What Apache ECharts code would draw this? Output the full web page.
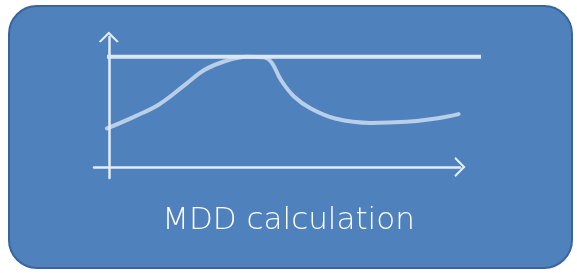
<!DOCTYPE html>
<html>
<head>
<meta charset="utf-8">
<script src="https://cdn.jsdelivr.net/npm/echarts@6/dist/echarts.min.js"></script>
<style>
  html, body { margin: 0; padding: 0; background: #fff; }
  #chart { width: 577px; height: 273px; }
</style>
</head>
<body>
<div id="chart"></div>
<script>
  // curve (x 0..100 across the drawing, y 0 = x axis, 100 = peak line)
  var curveX = [0, 7.5, 14, 21, 26, 31.5, 37.5, 42, 44, 46.5, 50, 54.5, 61, 70.5, 80, 88, 94];
  var curveY = [35, 46, 57, 75, 88, 96, 100, 99.5, 95, 79, 64, 53, 44, 40, 41, 44, 48];
  var peakX = [0, 100];
  var peakY = [100, 100];
  var label = "MDD calculation";

  var chart = echarts.init(document.getElementById("chart"));

  var chevron = "path://M0,10 L10,0 L20,10 L18.2,11.2 L10,3 L1.8,11.2 Z";
  var lineColor = "#e4ecf6";

  chart.setOption({
    animation: false,
    graphic: [
      {
        type: "rect",
        shape: { x: 9, y: 6, width: 563, height: 262, r: 28 },
        style: { fill: "#4f81bd", stroke: "#3a659a", lineWidth: 2 },
        z: -10,
      },
      {
        type: "text",
        left: "center",
        top: 205,
        style: {
          text: label,
          fill: "#ffffff",
          font: "200 31px 'DejaVu Sans'",
        },
      },
    ],
    grid: [
      // axes only
      { left: 94, right: 577 - 460, top: 37, bottom: 273 - 178 },
      // curve and peak line
      { left: 107, right: 577 - 481, top: 37, bottom: 273 - 178 },
    ],
    xAxis: [
      {
        gridIndex: 0,
        type: "value",
        min: -4,
        max: 95,
        axisLine: {
          onZero: true,
          symbol: ["none", chevron],
          symbolSize: [20, 17],
          lineStyle: { color: lineColor, width: 2.5 },
        },
        axisTick: { show: false },
        axisLabel: { show: false },
        splitLine: { show: false },
      },
      {
        gridIndex: 1,
        type: "value",
        min: 0,
        max: 100,
        show: false,
      },
    ],
    yAxis: [
      {
        gridIndex: 0,
        type: "value",
        min: -10,
        max: 118,
        axisLine: {
          show: true,
          onZero: true,
          symbol: ["none", chevron],
          symbolSize: [20, 16],
          lineStyle: { color: lineColor, width: 2.5 },
        },
        axisTick: { show: false },
        axisLabel: { show: false },
        splitLine: { show: false },
      },
      {
        gridIndex: 1,
        type: "value",
        min: -10,
        max: 118,
        show: false,
      },
    ],
    series: [
      {
        type: "line",
        xAxisIndex: 1,
        yAxisIndex: 1,
        data: peakX.map(function (x, i) { return [x, peakY[i]]; }),
        showSymbol: false,
        lineStyle: { color: "#dce6f2", width: 4 },
        z: 3,
      },
      {
        type: "line",
        xAxisIndex: 1,
        yAxisIndex: 1,
        data: curveX.map(function (x, i) { return [x, curveY[i]]; }),
        smooth: 0.4,
        showSymbol: false,
        lineStyle: { color: "rgba(220,232,245,0.75)", width: 4, cap: "round" },
        z: 2,
      },
    ],
  });
</script>
</body>
</html>
